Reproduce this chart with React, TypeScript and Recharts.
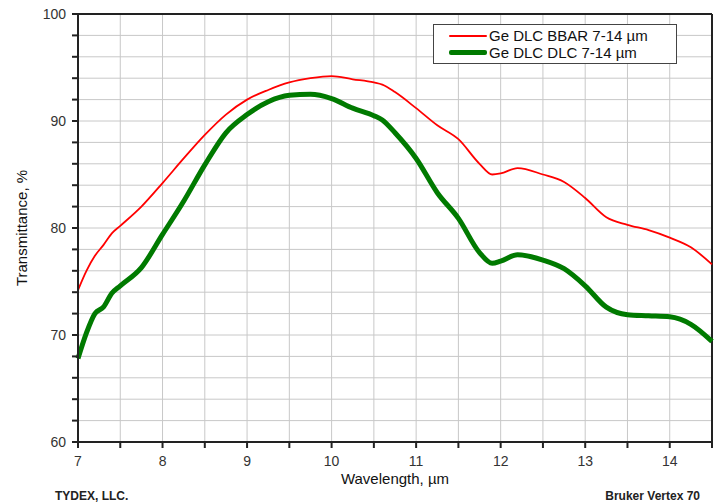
import React from "react";
import {
  LineChart,
  Line,
  XAxis,
  YAxis,
  CartesianGrid,
  Legend,
  ReferenceLine,
  Label,
} from "recharts";

const wavelengths = [
  7, 7.1, 7.2, 7.3, 7.4, 7.5, 7.75, 8, 8.25, 8.5, 8.75, 9, 9.25, 9.5, 9.75, 10,
  10.25, 10.5, 10.6, 10.75, 11, 11.25, 11.5, 11.75, 11.9, 12, 12.2, 12.5, 12.75,
  13, 13.25, 13.5, 13.75, 14, 14.25, 14.5,
];

const bbar = [
  74.2, 76.0, 77.4, 78.4, 79.5, 80.2, 82.0, 84.2, 86.5, 88.7, 90.6, 92.0, 92.9,
  93.6, 94.0, 94.2, 93.9, 93.6, 93.4, 92.7, 91.2, 89.6, 88.3, 86.0, 85.0, 85.1,
  85.6, 85.0, 84.3, 82.8, 81.0, 80.3, 79.8, 79.1, 78.2, 76.6,
];

const dlc = [
  67.8, 70.2, 72.0, 72.6, 73.9, 74.6, 76.3, 79.4, 82.5, 85.9, 88.9, 90.6, 91.8,
  92.4, 92.5, 92.1, 91.2, 90.5, 90.1, 88.9, 86.5, 83.3, 80.9, 77.7, 76.7, 76.9,
  77.5, 77.0, 76.2, 74.6, 72.6, 71.9, 71.8, 71.7, 71.0, 69.4,
];

const xTicks = [7, 7.5, 8, 8.5, 9, 9.5, 10, 10.5, 11, 11.5, 12, 12.5, 13, 13.5, 14, 14.5];
const yTicks = [60, 62, 64, 66, 68, 70, 72, 74, 76, 78, 80, 82, 84, 86, 88, 90, 92, 94, 96, 98, 100];

const seriesNames = ["Ge DLC BBAR 7-14 \u00b5m", "Ge DLC DLC 7-14 \u00b5m"];
const xTitle = "Wavelength, \u00b5m";
const yTitle = "Transmittance, %";

const data = wavelengths.map((w, i) => ({ w, bbar: bbar[i], dlc: dlc[i] }));

const FONT = "'Liberation Sans', Arial, sans-serif";

function LegendBox() {
  const items = [
    { name: seriesNames[0], color: "#ff0000", width: 2 },
    { name: seriesNames[1], color: "#007a00", width: 5 },
  ];
  return (
    <div
      style={{
        background: "#fff",
        border: "1px solid #444",
        width: 244,
        height: 40,
        boxSizing: "border-box",
        padding: "2px 0 0 15px",
        fontFamily: FONT,
        fontSize: 15,
        color: "#111",
      }}
    >
      {items.map((it) => (
        <div key={it.name} style={{ display: "flex", alignItems: "center", height: 17 }}>
          <div style={{ width: 38, height: it.width, background: it.color, marginRight: 2, borderRadius: 2 }} />
          <span>{it.name}</span>
        </div>
      ))}
    </div>
  );
}

export default function App() {
  return (
    <div style={{ position: "absolute", left: 0, top: 0, width: 723, height: 504, background: "#fff" }}>
      <LineChart
        width={723}
        height={504}
        data={data}
        margin={{ top: 14, right: 11, left: 18, bottom: 32 }}
      >
        <CartesianGrid stroke="#c8c8c8" strokeWidth={1} />
        <XAxis
          dataKey="w"
          type="number"
          domain={[7, 14.5]}
          ticks={xTicks}
          interval={0}
          tickFormatter={(v: number) => (Number.isInteger(v) ? String(v) : "")}
          tick={{ fill: "#333", fontSize: 14, fontFamily: FONT }}
          tickSize={6}
          tickMargin={8}
          stroke="#222"
          strokeWidth={2}
          height={30}
        >
          <Label
            value={xTitle}
            position="insideBottom"
            offset={-12}
            style={{ fill: "#111", fontSize: 15, fontFamily: FONT }}
          />
        </XAxis>
        <YAxis
          type="number"
          domain={[60, 100]}
          ticks={yTicks}
          interval={0}
          tickFormatter={(v: number) => (v % 10 === 0 ? String(v) : "")}
          tick={{ fill: "#333", fontSize: 14, fontFamily: FONT }}
          tickSize={6}
          tickMargin={6}
          stroke="#222"
          strokeWidth={2}
          width={60}
        >
          <Label
            value={yTitle}
            angle={-90}
            position="insideLeft"
            offset={4}
            style={{ fill: "#111", fontSize: 15, fontFamily: FONT, textAnchor: "middle" }}
          />
        </YAxis>
        <ReferenceLine y={100} stroke="#222" strokeWidth={2} />
        <ReferenceLine x={14.5} stroke="#222" strokeWidth={2} />
        <Line
          type="monotone"
          dataKey="bbar"
          name={seriesNames[0]}
          stroke="#ff0000"
          strokeWidth={1.8}
          dot={false}
          isAnimationActive={false}
        />
        <Line
          type="monotone"
          dataKey="dlc"
          name={seriesNames[1]}
          stroke="#007a00"
          strokeWidth={5}
          dot={false}
          isAnimationActive={false}
        />
        <Legend
          layout="horizontal"
          verticalAlign="middle"
          align="center"
          wrapperStyle={{ top: 24, left: 433, width: 244 }}
          content={() => <LegendBox />}
        />
      </LineChart>
      <div
        style={{
          position: "absolute",
          left: 55,
          top: 489,
          fontFamily: FONT,
          fontWeight: "bold",
          fontSize: 12,
          color: "#222",
        }}
      >
        TYDEX, LLC.
      </div>
      <div
        style={{
          position: "absolute",
          right: 23,
          top: 489,
          fontFamily: FONT,
          fontWeight: "bold",
          fontSize: 12,
          color: "#222",
        }}
      >
        Bruker Vertex 70
      </div>
    </div>
  );
}
